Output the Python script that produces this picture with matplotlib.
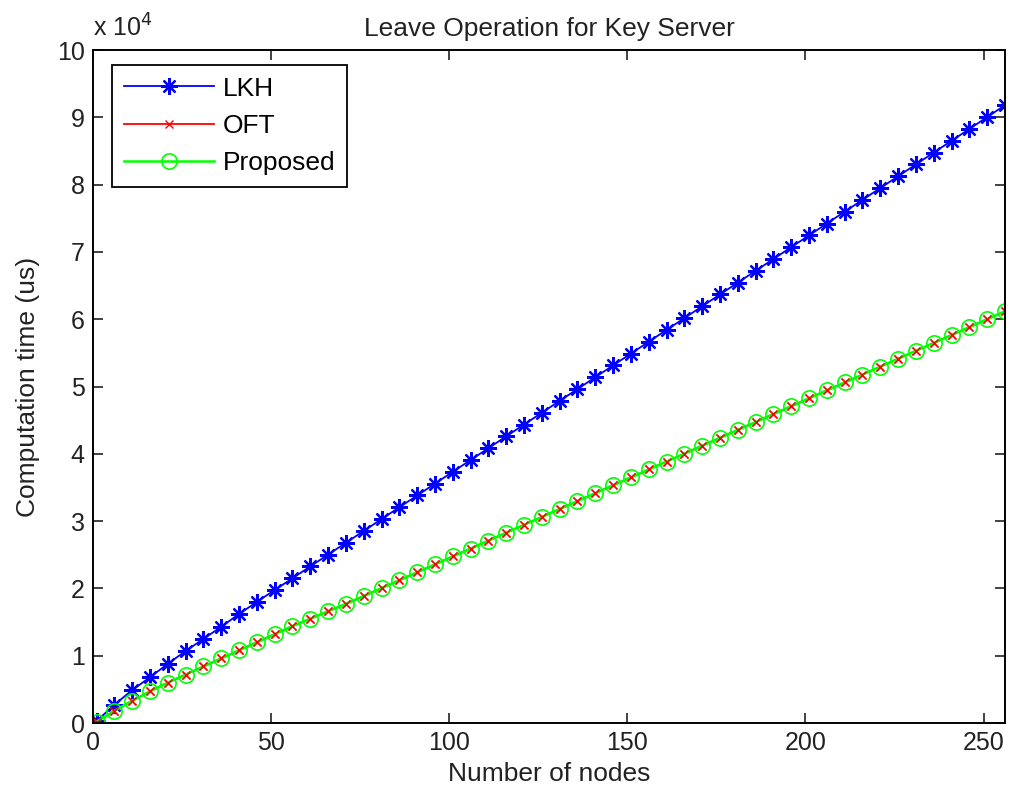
import matplotlib
matplotlib.use('Agg')
import matplotlib.pyplot as plt
from matplotlib.ticker import FuncFormatter

plt.rcParams['font.family'] = ['Liberation Sans', 'DejaVu Sans']

# number of nodes (one marker every 5 nodes)
nodes = list(range(1, 257, 5))

# computation time in us
lkh = [300, 2700, 4900, 6800, 8800, 10700, 12500, 14300, 16200, 18000,
       19760, 21510, 23270, 25030, 26780, 28540, 30300, 32060, 33810, 35570,
       37330, 39080, 40840, 42600, 44350, 46110, 47870, 49620, 51380, 53140,
       54890, 56650, 58410, 60160, 61920, 63680, 65430, 67190, 68950, 70700,
       72460, 74220, 75970, 77730, 79490, 81240, 83000, 84760, 86510, 88270,
       90030, 91800]
proposed = [200, 1800, 3300, 4700, 6000, 7200, 8400, 9600, 10800, 12000,
            13200, 14400, 15500, 16600, 17700, 18870, 20050, 21220, 22400, 23570,
            24750, 25920, 27100, 28270, 29450, 30620, 31800, 32970, 34150, 35320,
            36500, 37670, 38850, 40020, 41200, 42370, 43550, 44720, 45900, 47070,
            48250, 49420, 50600, 51770, 52950, 54120, 55300, 56470, 57650, 58820,
            60000, 61170]
oft = list(proposed)  # OFT curve sits exactly under the proposed one

x_ticks = [0, 50, 100, 150, 200, 250]
y_ticks = [i * 1e4 for i in range(11)]

fig = plt.figure(figsize=(10.11, 7.94), dpi=100)
ax = fig.add_axes([0.092, 0.0894, 0.902, 0.8476])

ax.plot(nodes, lkh, color='#0000ff', lw=1.3, marker=(8, 2, 0), markersize=12,
        markeredgewidth=1.6, label='LKH')
ax.plot(nodes, oft, color='#ff0000', lw=1.3, marker='x', markersize=6,
        markeredgewidth=1.0, label='OFT')
ax.plot(nodes, proposed, color='#00ff00', lw=1.8, marker='o', markersize=11,
        markerfacecolor='none', markeredgewidth=1.2, label='Proposed')
# draw OFT crosses again so they show inside the circles
ax.plot(nodes, oft, color='#ff0000', lw=0, marker='x', markersize=6,
        markeredgewidth=1.0)

ax.set_xlim(0, 256)
ax.set_ylim(0, 1e5)
ax.set_xticks(x_ticks)
ax.set_yticks(y_ticks)
ax.yaxis.set_major_formatter(FuncFormatter(lambda v, p: '%d' % round(v / 1e4)))
ax.tick_params(direction='in', length=7, width=1.2, top=True, right=True,
               labelsize=18, pad=6, colors='#222222')
for s in ax.spines.values():
    s.set_linewidth(1.4)

ax.text(0.0, 1.012, r'x 10$^{4}$', transform=ax.transAxes, fontsize=18,
        ha='left', va='bottom', color='#222222')
ax.set_title('Leave Operation for Key Server', fontsize=19, pad=10, color='#222222')
ax.set_xlabel('Number of nodes', fontsize=19, labelpad=5, color='#222222')
ax.set_ylabel('Computation time (us)', fontsize=19, labelpad=12, color='#222222')

leg = ax.legend(loc='upper left', fontsize=19, handlelength=3.4, borderpad=0.45,
                labelspacing=0.5, handletextpad=0.35, fancybox=False,
                bbox_to_anchor=(0.021, 0.978), borderaxespad=0)
leg.get_frame().set_edgecolor('black')
leg.get_frame().set_linewidth(1.3)
leg.get_frame().set_alpha(1)

plt.savefig('out.png', dpi=100)
